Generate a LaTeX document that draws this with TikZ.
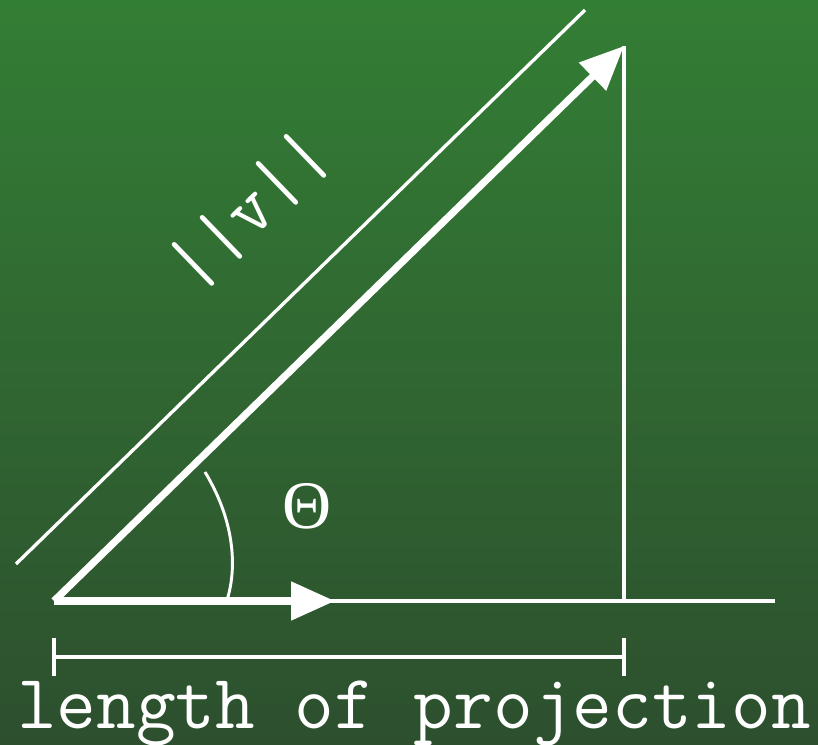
\documentclass[tikz,border=0pt]{standalone}
\usepackage{fontspec}
\newfontfamily\thetafont{Liberation Serif}
\usepackage{tikz}
\usetikzlibrary{arrows.meta}
\definecolor{BoardTop}{RGB}{51,126,53}
\definecolor{BoardBottom}{RGB}{45,79,46}
\tikzset{
  thinline/.style={white,line width=2.5pt},
  thickvec/.style={white,line width=5.4pt,-{Triangle[length=33pt,width=28pt]}},
  chalk/.style={white,inner sep=0pt,font=\fontsize{56.7}{57}\selectfont\ttfamily},
}
\begin{document}
\begin{tikzpicture}[x=0.75pt,y=-0.75pt]
 % board
 \fill[top color=BoardTop,bottom color=BoardBottom] (0,0) rectangle (818,745);
 \useasboundingbox (0,0) rectangle (818,745);
 \coordinate (O) at (54,601);
 \coordinate (V) at (624,46);
 \coordinate (P) at (624,601);
 \coordinate (E) at (775,601);
 \coordinate (H) at (335,601);
 \coordinate (na) at (16,564);
 \coordinate (nb) at (585,10);
 % triangle
 \draw[thinline] (O) -- (E);
 \draw[thinline] (V) -- (P);
 \draw[thickvec] (O) -- (V);
 \draw[thickvec] (O) -- (H);
 % angle
 \draw[white,line width=2.2pt] (205,472) .. controls (237,525) and (236,572) .. (227,600);
 \node[chalk,font=\fontsize{51}{52}\selectfont\thetafont] (theta) at (307,506) {Θ};
 % norm line
 \draw[thinline] (na) -- (nb);
 \node[chalk,rotate=44] (norm) at (249,210) {||v||};
 % projection bracket
 \coordinate (bl) at (54,657);
 \coordinate (br) at (624,657);
 \draw[thinline] (bl) -- (br);
 \foreach \c in {bl,br}{
   \draw[thinline] ([yshift=14pt]\c) -- ([yshift=-14pt]\c);}
 \node[chalk,anchor=base,font=\fontsize{57.8}{58}\selectfont\ttfamily] (proj) at (414,728) {length of projection};
\end{tikzpicture}
\end{document}
